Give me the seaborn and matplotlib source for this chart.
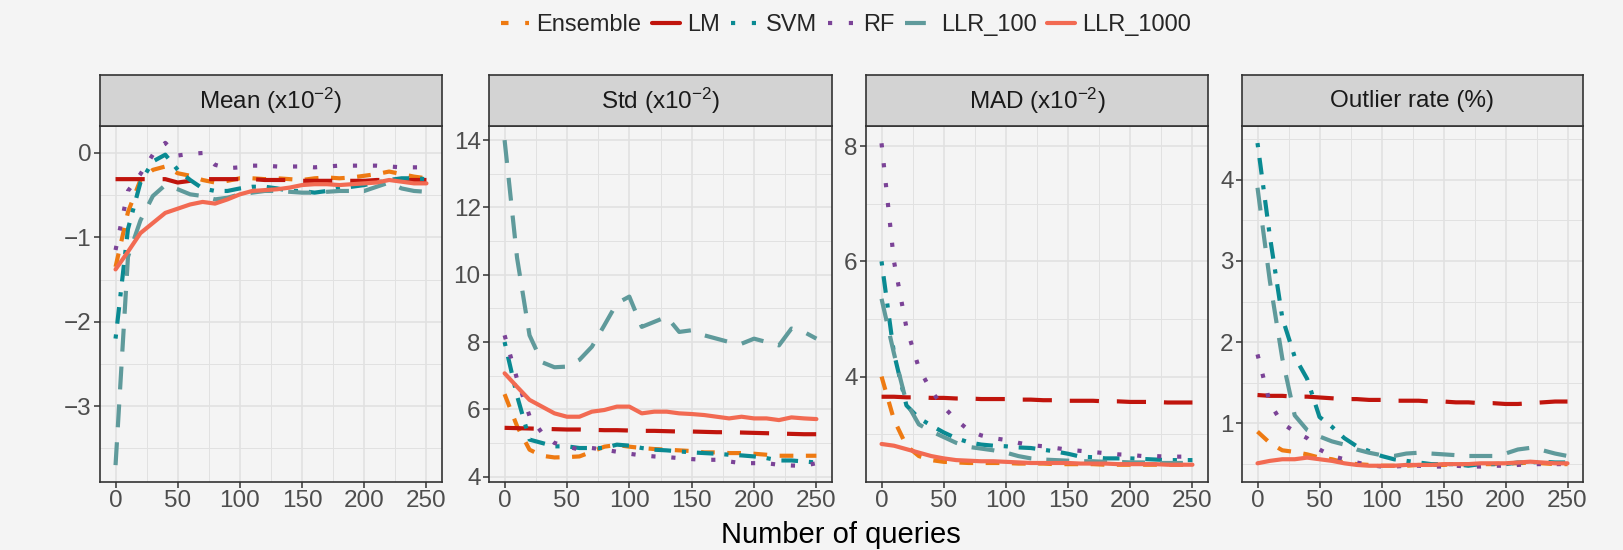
import matplotlib
matplotlib.use("Agg")
import matplotlib.pyplot as plt
import numpy as np
import pandas as pd
import seaborn as sns
from matplotlib.lines import Line2D
from matplotlib.ticker import MultipleLocator

# ---------------- data ----------------
queries = list(range(0, 251, 10))
models = ["Ensemble", "LM", "SVM", "RF", "LLR_100", "LLR_1000"]
metric_labels = ["Mean (x10$^{-2}$)", "Std (x10$^{-2}$)", "MAD (x10$^{-2}$)", "Outlier rate (%)"]

mean_ensemble = [-1.35, -0.70, -0.32, -0.20, -0.16, -0.24, -0.27, -0.32, -0.35, -0.33, -0.30, -0.30, -0.31,
                 -0.30, -0.31, -0.32, -0.30, -0.29, -0.30, -0.29, -0.27, -0.25, -0.22, -0.25, -0.28, -0.30]
mean_lm = [-0.31, -0.31, -0.31, -0.31, -0.31, -0.35, -0.33, -0.31, -0.31, -0.31, -0.31, -0.31, -0.32,
           -0.32, -0.32, -0.33, -0.33, -0.33, -0.33, -0.33, -0.33, -0.32, -0.32, -0.32, -0.32, -0.32]
mean_svm = [-2.20, -0.90, -0.35, -0.10, -0.02, -0.20, -0.32, -0.42, -0.45, -0.45, -0.42, -0.40, -0.40,
            -0.42, -0.45, -0.45, -0.47, -0.45, -0.42, -0.40, -0.38, -0.35, -0.32, -0.30, -0.30, -0.31]
mean_rf = [-1.15, -0.45, -0.25, -0.02, 0.12, -0.03, -0.01, 0.00, -0.14, -0.18, -0.17, -0.15, -0.15,
           -0.16, -0.16, -0.16, -0.17, -0.16, -0.15, -0.15, -0.15, -0.15, -0.16, -0.17, -0.17, -0.17]
mean_llr100 = [-3.70, -1.23, -0.80, -0.51, -0.38, -0.43, -0.49, -0.51, -0.55, -0.53, -0.49, -0.47, -0.45,
               -0.45, -0.46, -0.47, -0.47, -0.46, -0.45, -0.45, -0.45, -0.40, -0.35, -0.42, -0.45, -0.46]
mean_llr1000 = [-1.38, -1.17, -0.95, -0.83, -0.71, -0.66, -0.61, -0.58, -0.60, -0.55, -0.49, -0.45, -0.44,
                -0.43, -0.41, -0.38, -0.37, -0.37, -0.38, -0.37, -0.36, -0.35, -0.32, -0.34, -0.36, -0.36]

std_ensemble = [6.45, 5.50, 4.80, 4.62, 4.57, 4.58, 4.60, 4.74, 4.89, 4.94, 4.89, 4.85, 4.82,
                4.80, 4.78, 4.76, 4.72, 4.72, 4.70, 4.70, 4.68, 4.65, 4.62, 4.62, 4.62, 4.62]
std_lm = [5.45, 5.44, 5.43, 5.42, 5.41, 5.40, 5.40, 5.39, 5.38, 5.38, 5.37, 5.36, 5.36,
          5.35, 5.34, 5.34, 5.33, 5.32, 5.32, 5.31, 5.30, 5.29, 5.28, 5.27, 5.26, 5.26]
std_svm = [8.00, 6.40, 5.10, 5.00, 4.90, 4.90, 4.85, 4.85, 4.85, 4.95, 4.92, 4.85, 4.80,
           4.78, 4.75, 4.72, 4.70, 4.68, 4.65, 4.63, 4.60, 4.55, 4.48, 4.48, 4.45, 4.42]
std_rf = [8.20, 6.90, 5.80, 5.30, 5.00, 4.90, 4.80, 4.85, 4.80, 4.74, 4.68, 4.63, 4.60,
          4.58, 4.55, 4.52, 4.50, 4.50, 4.45, 4.40, 4.40, 4.40, 4.35, 4.33, 4.32, 4.40]
std_llr100 = [14.0, 10.5, 8.20, 7.40, 7.25, 7.27, 7.47, 7.86, 8.50, 9.15, 9.35, 8.45, 8.60,
              8.75, 8.30, 8.35, 8.20, 8.10, 8.00, 7.95, 8.10, 8.00, 7.90, 8.40, 8.30, 8.10]
std_llr1000 = [7.07, 6.67, 6.28, 6.08, 5.88, 5.78, 5.78, 5.93, 5.98, 6.08, 6.08, 5.88, 5.93,
               5.93, 5.88, 5.86, 5.83, 5.78, 5.73, 5.78, 5.73, 5.73, 5.68, 5.76, 5.73, 5.71]

mad_ensemble = [4.00, 3.25, 2.80, 2.62, 2.55, 2.52, 2.51, 2.50, 2.50, 2.50, 2.50, 2.49, 2.49,
                2.49, 2.48, 2.48, 2.48, 2.48, 2.47, 2.47, 2.47, 2.47, 2.47, 2.47, 2.47, 2.47]
mad_lm = [3.65, 3.65, 3.64, 3.64, 3.63, 3.63, 3.62, 3.62, 3.61, 3.61, 3.61, 3.60, 3.60,
          3.59, 3.59, 3.58, 3.58, 3.58, 3.57, 3.57, 3.56, 3.56, 3.56, 3.55, 3.55, 3.55]
mad_svm = [6.00, 4.40, 3.50, 3.28, 3.15, 3.03, 2.93, 2.86, 2.82, 2.80, 2.79, 2.77, 2.76,
           2.73, 2.70, 2.66, 2.61, 2.60, 2.58, 2.58, 2.58, 2.57, 2.56, 2.55, 2.55, 2.55]
mad_rf = [8.05, 6.00, 4.85, 4.15, 3.75, 3.47, 3.25, 3.07, 2.98, 2.93, 2.90, 2.85, 2.81,
          2.79, 2.76, 2.73, 2.71, 2.69, 2.67, 2.65, 2.64, 2.62, 2.62, 2.61, 2.61, 2.61]
mad_llr100 = [5.35, 4.40, 3.55, 3.17, 3.05, 2.95, 2.85, 2.78, 2.75, 2.72, 2.68, 2.62, 2.58,
              2.56, 2.55, 2.54, 2.53, 2.53, 2.52, 2.52, 2.51, 2.51, 2.50, 2.50, 2.50, 2.50]
mad_llr1000 = [2.83, 2.80, 2.74, 2.68, 2.62, 2.58, 2.55, 2.54, 2.53, 2.53, 2.52, 2.51, 2.50,
               2.50, 2.50, 2.50, 2.49, 2.49, 2.49, 2.48, 2.48, 2.48, 2.48, 2.47, 2.47, 2.47]

out_ensemble = [0.90, 0.76, 0.67, 0.65, 0.62, 0.58, 0.56, 0.52, 0.50, 0.49, 0.48, 0.48, 0.48,
                0.49, 0.49, 0.49, 0.50, 0.50, 0.50, 0.50, 0.51, 0.51, 0.52, 0.51, 0.50, 0.50]
out_lm = [1.35, 1.34, 1.34, 1.33, 1.33, 1.32, 1.31, 1.30, 1.30, 1.29, 1.29, 1.28, 1.28,
          1.28, 1.27, 1.27, 1.26, 1.26, 1.25, 1.25, 1.24, 1.24, 1.25, 1.26, 1.27, 1.27]
out_svm = [4.45, 3.30, 2.30, 1.82, 1.55, 1.08, 0.96, 0.82, 0.72, 0.66, 0.60, 0.56, 0.54,
           0.52, 0.50, 0.50, 0.50, 0.48, 0.50, 0.50, 0.50, 0.52, 0.52, 0.53, 0.52, 0.52]
out_rf = [1.85, 1.25, 1.00, 0.90, 0.82, 0.68, 0.60, 0.56, 0.52, 0.49, 0.47, 0.47, 0.48,
          0.48, 0.47, 0.47, 0.48, 0.47, 0.47, 0.48, 0.48, 0.49, 0.50, 0.50, 0.50, 0.50]
out_llr100 = [3.90, 2.75, 1.80, 1.10, 0.92, 0.84, 0.78, 0.74, 0.68, 0.64, 0.61, 0.60, 0.63,
              0.64, 0.63, 0.62, 0.61, 0.60, 0.60, 0.60, 0.63, 0.68, 0.70, 0.67, 0.63, 0.60]
out_llr1000 = [0.51, 0.54, 0.56, 0.56, 0.58, 0.56, 0.54, 0.51, 0.49, 0.48, 0.48, 0.48, 0.49,
               0.49, 0.49, 0.50, 0.50, 0.50, 0.51, 0.51, 0.51, 0.52, 0.53, 0.52, 0.51, 0.51]

series = {
    metric_labels[0]: [mean_ensemble, mean_lm, mean_svm, mean_rf, mean_llr100, mean_llr1000],
    metric_labels[1]: [std_ensemble, std_lm, std_svm, std_rf, std_llr100, std_llr1000],
    metric_labels[2]: [mad_ensemble, mad_lm, mad_svm, mad_rf, mad_llr100, mad_llr1000],
    metric_labels[3]: [out_ensemble, out_lm, out_svm, out_rf, out_llr100, out_llr1000],
}
rows = []
for metric, vals in series.items():
    for model, v in zip(models, vals):
        for q, y in zip(queries, v):
            rows.append((metric, model, q, y))
df = pd.DataFrame(rows, columns=["metric", "model", "queries", "value"])

# ---------------- style ----------------
BG = "#F4F4F4"
GRID = "#E1E1E1"
DARK = "#333333"
palette = {"Ensemble": "#EE7A12", "LM": "#C0140C", "SVM": "#0A8A92",
           "RF": "#7B4397", "LLR_100": "#5F9A9B", "LLR_1000": "#F26A52"}
dashes = {"Ensemble": (3.3, 3), "LM": (7, 4.3), "SVM": (1, 2.6, 4, 2.6),
          "RF": (1, 3.8), "LLR_100": (5.5, 3.6), "LLR_1000": ""}
legend_styles = {"Ensemble": (0, (1.8, 4)), "LM": "-", "SVM": (0, (1, 4)),
                 "RF": (0, (1, 4)), "LLR_100": (0, (5, 3)), "LLR_1000": "-"}
LW = 3.0

sns.set_theme(style="white")
plt.rcParams["font.family"] = ["Liberation Sans", "DejaVu Sans"]
plt.rcParams["mathtext.fontset"] = "custom"
plt.rcParams["mathtext.rm"] = "Liberation Sans"
plt.rcParams["mathtext.it"] = "Liberation Sans:italic"
plt.rcParams["mathtext.bf"] = "Liberation Sans:bold"

W, H = 1623, 550
fig = plt.figure(figsize=(W / 100, H / 100), dpi=100, facecolor=BG)

panels_px = [(100, 442), (489, 832), (866, 1208), (1242, 1583)]
top_px, bottom_px, strip_top_px = 126, 482, 75
ylims = [(-3.90, 0.32), (3.84, 14.42), (2.17, 8.35), (0.28, 4.66)]
ysteps = [1, 2, 2, 1]

for i, (l, r) in enumerate(panels_px):
    metric = metric_labels[i]
    ax = fig.add_axes([l / W, 1 - bottom_px / H, (r - l) / W, (bottom_px - top_px) / H])
    ax.set_facecolor(BG)
    sub = df[df["metric"] == metric]
    sns.lineplot(data=sub, x="queries", y="value", hue="model", style="model",
                 hue_order=models, style_order=models, palette=palette, dashes=dashes,
                 linewidth=LW, estimator=None, legend=False, ax=ax)
    ax.set_xlim(-12.5, 262.5)
    ax.set_ylim(*ylims[i])
    ax.xaxis.set_major_locator(MultipleLocator(50))
    ax.xaxis.set_minor_locator(MultipleLocator(25))
    ax.yaxis.set_major_locator(MultipleLocator(ysteps[i]))
    ax.yaxis.set_minor_locator(MultipleLocator(ysteps[i] / 2))
    ax.grid(which="major", color=GRID, lw=1.2)
    ax.grid(which="minor", color=GRID, lw=0.7)
    ax.set_axisbelow(True)
    ax.tick_params(which="major", direction="out", length=4, width=1.1, color=DARK,
                   labelsize=17.5, labelcolor="#4D4D4D", pad=2, bottom=True, left=True)
    ax.tick_params(which="minor", length=0)
    for s in ax.spines.values():
        s.set_color(DARK)
        s.set_linewidth(1.2)
    ax.set_xlabel("")
    ax.set_ylabel("")

    sax = fig.add_axes([l / W, 1 - top_px / H, (r - l) / W, (top_px - strip_top_px) / H])
    sax.set_facecolor("#D3D3D3")
    sax.set_xticks([])
    sax.set_yticks([])
    for s in sax.spines.values():
        s.set_color(DARK)
        s.set_linewidth(1.2)
    sax.text(0.5, 0.5, metric, ha="center", va="center", fontsize=17.5, color="#1A1A1A",
             transform=sax.transAxes)

fig.text(841 / W, 1 - 535 / H, "Number of queries", ha="center", va="center",
         fontsize=21, color="black")

handles = [Line2D([], [], color=palette[m], lw=LW, linestyle=legend_styles[m]) for m in models]
fig.legend(handles, models, loc="center", bbox_to_anchor=(846 / W, 1 - 25 / H), ncol=6,
           frameon=False, fontsize=17, handlelength=1.2, handletextpad=0.3,
           columnspacing=0.45, borderaxespad=0, borderpad=0)

fig.savefig("out.png", dpi=100, facecolor=BG)
